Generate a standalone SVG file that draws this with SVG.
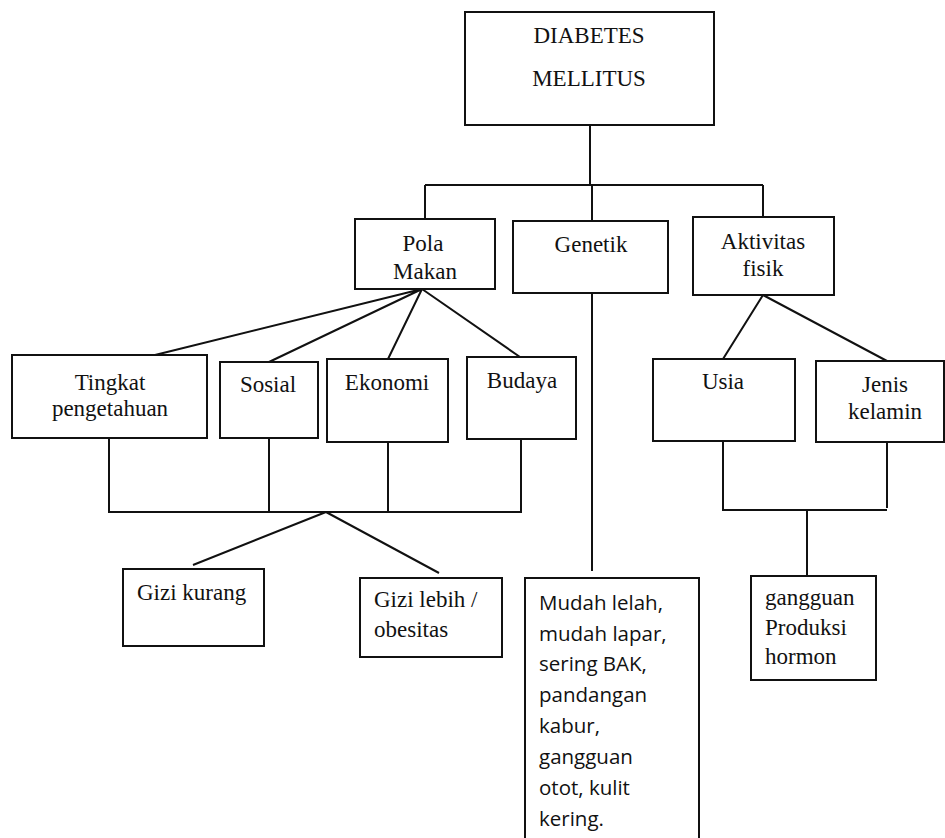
<svg xmlns="http://www.w3.org/2000/svg" width="945" height="838" viewBox="0 0 945 838">
<style>
.box{fill:#fff;stroke:#111;stroke-width:2}
.t{font-family:"Liberation Serif","Times New Roman",serif;font-size:23px;fill:#111}
.c{text-anchor:middle}
.s{font-family:"Open Sans","Noto Sans",sans-serif;font-size:20.5px;fill:#111}
.ln{fill:none;stroke:#111;stroke-width:2}
</style>
<rect width="945" height="838" fill="#fff"/>
<g id="connectors">
<path class="ln" d="M590 125V185M425 185H763M425 185V219M592 185V221M763 185V217"/>
<path class="ln" d="M422 289L155 355M422 289L269 362M422 289L388 359M422 289L520 357"/>
<path class="ln" d="M109 438V512M269 438V512M388 442V512M521 439V512M108 512H522"/>
<path class="ln" d="M326 512L193 565M326 512L439 573"/>
<path class="ln" d="M592 293V571"/>
<path class="ln" d="M763 295L723 359M763 295L887 361"/>
<path class="ln" d="M723 441V510M887 442V508M722 510H887M807 510V576"/>
</g>
<g id="diabetes"><rect class="box" x="465" y="12" width="249" height="113"/><text class="t c" x="589" y="43">DIABETES</text><text class="t c" x="589" y="86">MELLITUS</text></g>
<g id="pola-makan"><rect class="box" x="355" y="219" width="140" height="70"/><text class="t c" x="423" y="251">Pola</text><text class="t c" x="425" y="279">Makan</text></g>
<g id="genetik"><rect class="box" x="513" y="221" width="155" height="72"/><text class="t c" x="591" y="252">Genetik</text></g>
<g id="aktivitas-fisik"><rect class="box" x="693" y="217" width="141" height="78"/><text class="t c" x="763" y="249">Aktivitas</text><text class="t c" x="763" y="276">fisik</text></g>
<g id="tingkat-pengetahuan"><rect class="box" x="12" y="355" width="195" height="83"/><text class="t c" x="110" y="390">Tingkat</text><text class="t c" x="110" y="416">pengetahuan</text></g>
<g id="sosial"><rect class="box" x="220" y="362" width="98" height="76"/><text class="t c" x="268" y="392">Sosial</text></g>
<g id="ekonomi"><rect class="box" x="327" y="359" width="121" height="83"/><text class="t c" x="387" y="390">Ekonomi</text></g>
<g id="budaya"><rect class="box" x="467" y="357" width="109" height="82"/><text class="t c" x="522" y="388">Budaya</text></g>
<g id="usia"><rect class="box" x="653" y="359" width="142" height="82"/><text class="t c" x="723" y="389">Usia</text></g>
<g id="jenis-kelamin"><rect class="box" x="816" y="361" width="128" height="81"/><text class="t c" x="885" y="392">Jenis</text><text class="t c" x="885" y="419">kelamin</text></g>
<g id="gizi-kurang"><rect class="box" x="123" y="569" width="141" height="77"/><text class="t" x="137" y="600">Gizi kurang</text></g>
<g id="gizi-lebih"><rect class="box" x="360" y="578" width="142" height="79"/><text class="t" x="374" y="607">Gizi lebih /</text><text class="t" x="374" y="637">obesitas</text></g>
<g id="gejala"><rect class="box" x="525" y="578" width="174" height="270"/>
<text class="s" x="539" y="610">Mudah lelah,</text>
<text class="s" x="539" y="641">mudah lapar,</text>
<text class="s" x="539" y="671">sering BAK,</text>
<text class="s" x="539" y="702">pandangan</text>
<text class="s" x="539" y="733">kabur,</text>
<text class="s" x="539" y="764">gangguan</text>
<text class="s" x="539" y="795">otot, kulit</text>
<text class="s" x="539" y="826">kering.</text>
</g>
<g id="hormon"><rect class="box" x="751" y="576" width="125" height="104"/><text class="t" x="765" y="605">gangguan</text><text class="t" x="765" y="635">Produksi</text><text class="t" x="765" y="664">hormon</text></g>
</svg>
